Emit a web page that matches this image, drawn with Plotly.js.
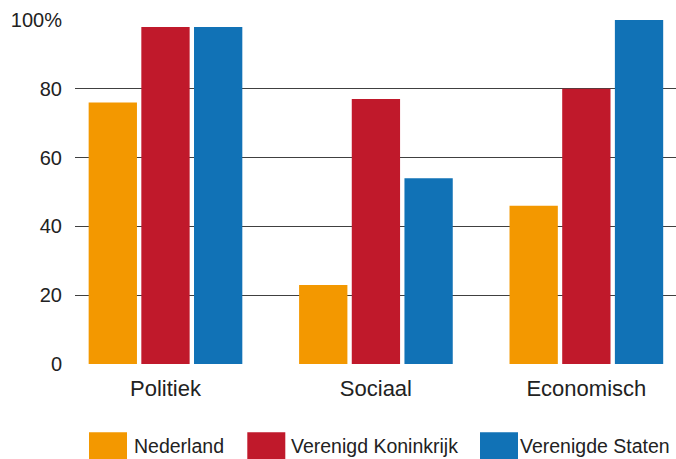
<!DOCTYPE html>
<html>
<head>
<meta charset="utf-8">
<script src="https://cdn.plot.ly/plotly-3.0.1.min.js"></script>
<style>html,body{margin:0;padding:0;background:#fff;}#chart{width:676px;height:459px;}</style>
</head>
<body>
<div id="chart"></div>
<script>
const categories = ['Politiek', 'Sociaal', 'Economisch'];
const seriesNames = ['Nederland', 'Verenigd Koninkrijk', 'Verenigde Staten'];
const nederland = [76, 23, 46];
const verenigdKoninkrijk = [98, 77, 80];
const verenigdeStaten = [98, 54, 100];
const yTickVals = [0, 20, 40, 60, 80, 100];
const yTickText = ['0', '20', '40', '60', '80', '100%'];
const colors = ['#F39800', '#C0192B', '#1172B6'];

const seriesValues = [nederland, verenigdKoninkrijk, verenigdeStaten];

const W = 676, H = 459;
const mL = 75, mR = 0, mT = 19.5, mB = 95.3;
const plotW = W - mL - mR, plotH = H - mT - mB;
function px2x(px) { return (px - mL) / plotW; }
function px2y(py) { return (H - mB - py) / plotH; }

const traces = seriesValues.map((vals, i) => ({
  type: 'bar',
  x: categories,
  y: vals,
  name: seriesNames[i],
  marker: { color: colors[i], line: { width: 0 } },
  hoverinfo: 'skip'
}));

const legSquareX = [89, 247.3, 480];
const legTextX = [132, 289, 518];
const shapes = [];
const annotations = [];
seriesNames.forEach((n, i) => {
  shapes.push({
    type: 'rect', xref: 'paper', yref: 'paper',
    x0: px2x(legSquareX[i]), x1: px2x(legSquareX[i] + 38),
    y0: px2y(459), y1: px2y(432),
    fillcolor: colors[i], line: { width: 0 }, layer: 'above'
  });
  annotations.push({
    xref: 'paper', yref: 'paper',
    x: px2x(legTextX[i]), y: px2y(446),
    xanchor: 'left', yanchor: 'middle',
    text: n, showarrow: false,
    font: { family: 'Liberation Sans, Arial, sans-serif', size: 19.5, color: '#222' }
  });
});

const layout = {
  width: W, height: H,
  margin: { l: mL, r: mR, t: mT, b: mB, pad: 0 },
  paper_bgcolor: '#fff', plot_bgcolor: '#fff',
  barmode: 'group',
  bargap: 0.249,
  bargroupgap: 0.083,
  showlegend: false,
  font: { family: 'Liberation Sans, Arial, sans-serif', size: 20, color: '#222' },
  xaxis: {
    type: 'category',
    range: [-0.43, 2.426],
    showgrid: false, zeroline: false, showline: false,
    ticks: '', ticklabelstandoff: 9,
    tickfont: { size: 22, color: '#222' },
    fixedrange: true
  },
  yaxis: {
    range: [0, 100],
    tickvals: yTickVals, ticktext: yTickText,
    showgrid: true, gridcolor: '#404040', gridwidth: 1.3,
    zeroline: false, showline: false,
    ticks: '', ticklabelstandoff: 12,
    tickfont: { size: 20, color: '#222' },
    layer: 'below traces',
    fixedrange: true
  },
  shapes: shapes,
  annotations: annotations
};

Plotly.newPlot('chart', traces, layout, { staticPlot: true, displayModeBar: false });
</script>
</body>
</html>
